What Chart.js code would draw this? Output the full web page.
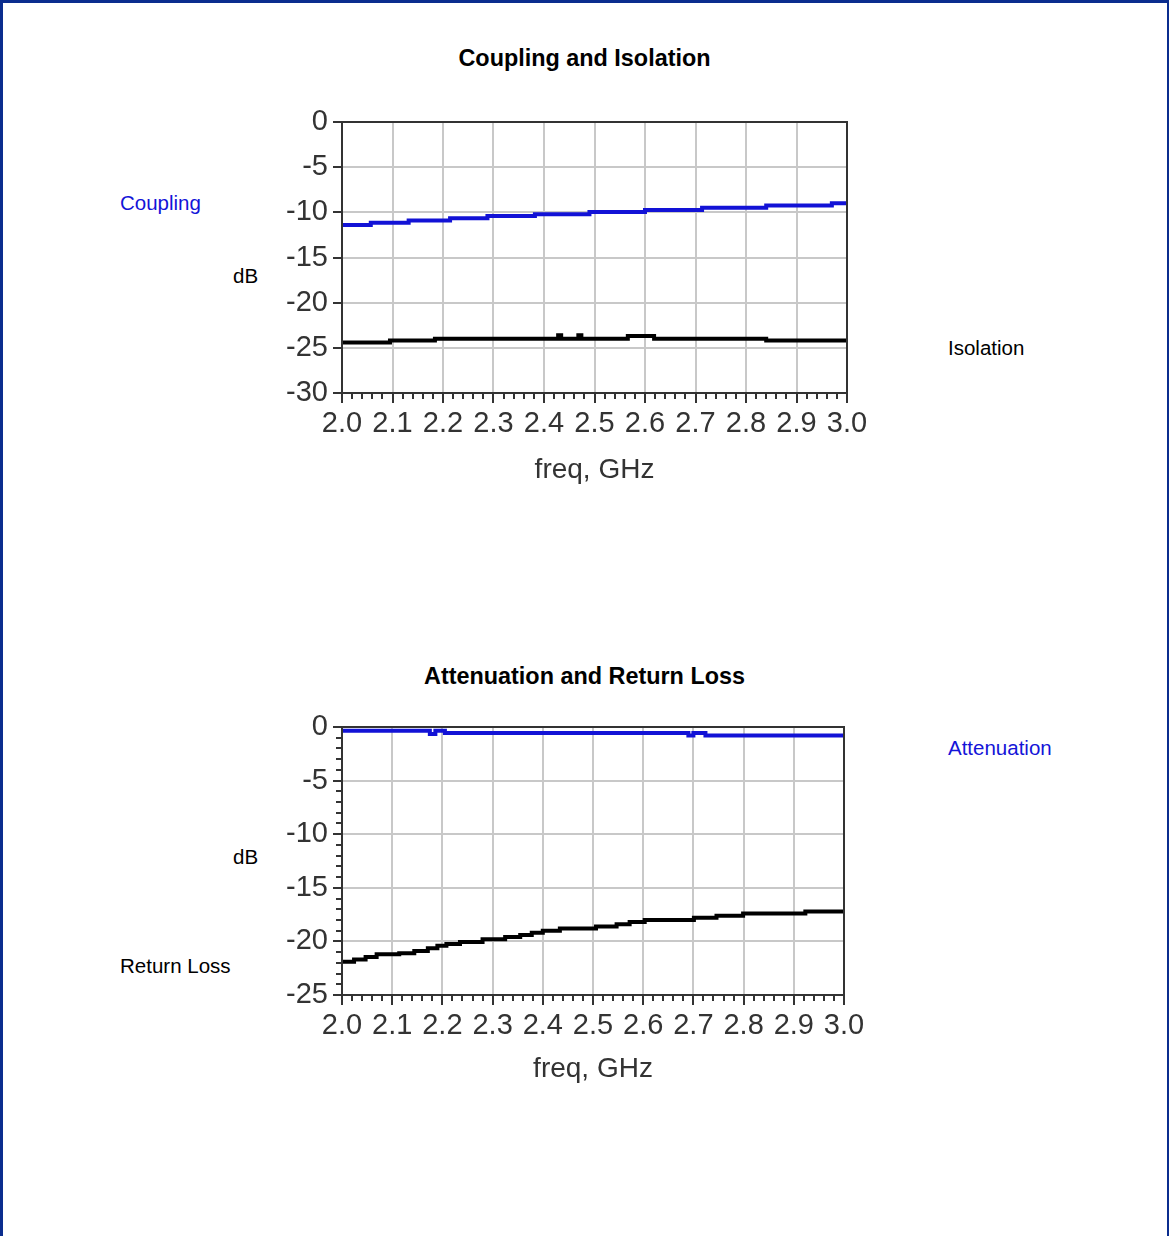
<!DOCTYPE html>
<html>
<head>
<meta charset="utf-8">
<script src="https://cdn.jsdelivr.net/npm/chart.js@4.4.1/dist/chart.umd.min.js"></script>
<style>
  html, body { margin: 0; padding: 0; background: #fff; }
  #page {
    position: relative; width: 1164px; height: 1233px; overflow: hidden;
    border-top: 3px solid #0b2d8e; border-left: 3px solid #0b2d8e; border-right: 2px solid #0b2d8e;
    font-family: "Liberation Sans", Arial, sans-serif;
  }
  canvas { position: absolute; }
  .lbl { position: absolute; font-size: 20.5px; line-height: 20px; white-space: nowrap; color: #000; }
  .blue { color: #1414d8; }
  .title { position: absolute; left: -3px; width: 1169px; text-align: center; font-weight: bold; font-size: 23.4px; line-height: 22px; }
</style>
</head>
<body>
<div id="page">
  <div class="title" style="top:44px">Coupling and Isolation</div>
  <div class="lbl blue" style="left:117px; top:190px">Coupling</div>
  <div class="lbl" style="left:230px; top:263px">dB</div>
  <div class="lbl" style="left:945px; top:335px">Isolation</div>
  <canvas id="c1" width="700" height="420" style="left:197px; top:77px"></canvas>

  <div class="title" style="top:662px">Attenuation and Return Loss</div>
  <div class="lbl blue" style="left:945px; top:735px">Attenuation</div>
  <div class="lbl" style="left:230px; top:844px">dB</div>
  <div class="lbl" style="left:117px; top:953px">Return Loss</div>
  <canvas id="c2" width="700" height="410" style="left:197px; top:687px"></canvas>
</div>
<script>
// Frequências (GHz) onde cada degrau começa, e valores em dB
const couplingFreq = [2.0, 2.057, 2.132, 2.214, 2.288, 2.382, 2.49, 2.60, 2.713, 2.84, 2.97, 3.0]
const couplingDb = [-11.4, -11.15, -10.9, -10.65, -10.4, -10.2, -9.95, -9.75, -9.5, -9.25, -9.0, -9.0]

const isolationFreq = [2.0, 2.095, 2.184, 2.428, 2.434, 2.468, 2.474, 2.566, 2.618, 2.84, 3.0]
const isolationDb = [-24.4, -24.2, -24.0, -23.6, -24.0, -23.6, -24.0, -23.7, -24.0, -24.2, -24.2]

const attenFreq = [2.0, 2.175, 2.186, 2.205, 2.69, 2.70, 2.724, 3.0]
const attenDb = [-0.35, -0.65, -0.35, -0.56, -0.8, -0.56, -0.8, -0.8]

const returnFreq = [2.0, 2.024, 2.047, 2.069, 2.114, 2.144, 2.171, 2.19, 2.208, 2.235, 2.28, 2.325, 2.355,
  2.378, 2.4, 2.434, 2.506, 2.547, 2.573, 2.603, 2.701, 2.746, 2.799, 2.923, 3.0]
const returnDb = [-21.9, -21.7, -21.45, -21.2, -21.1, -20.9, -20.65, -20.4, -20.25, -20.05, -19.8, -19.6, -19.4,
  -19.2, -19.0, -18.8, -18.6, -18.4, -18.2, -18.0, -17.8, -17.6, -17.4, -17.2, -17.2]

const freqTicks = ['2.0', '2.1', '2.2', '2.3', '2.4', '2.5', '2.6', '2.7', '2.8', '2.9', '3.0']
const xLabel = 'freq, GHz'

const BLUE = '#1212d6'
const GRID = '#c8c8c8'
const FRAME = '#333'
const TICK_FONT = { family: '"Liberation Sans", Arial, sans-serif', size: 29 }
const XTITLE_FONT = { family: '"Liberation Sans", Arial, sans-serif', size: 28 }

const toPoints = (xs, ys) => xs.map((x, i) => ({ x: x, y: ys[i] }))

// Moldura + marcas de escala (menores e maiores) para fora do gráfico
const axisTicks = {
  id: 'axisTicks',
  afterDraw(chart, args, opts) {
    const { ctx, chartArea: a } = chart
    const xs = chart.scales.x
    const ys = chart.scales.y
    ctx.save()
    ctx.strokeStyle = FRAME
    ctx.lineWidth = 2
    ctx.strokeRect(a.left, a.top, a.right - a.left, a.bottom - a.top)
    ctx.beginPath()
    for (let i = 0; i <= 50; i++) {
      const px = Math.round(xs.getPixelForValue(2 + i * 0.02))
      const len = i % 5 === 0 ? 10 : 6
      ctx.moveTo(px, a.bottom)
      ctx.lineTo(px, a.bottom + len)
    }
    const step = opts.yMinor || 5
    for (let v = ys.min; v <= ys.max + 1e-9; v += step) {
      const py = Math.round(ys.getPixelForValue(v))
      const len = Math.abs(v % 5) < 1e-9 ? 9 : 6
      ctx.moveTo(a.left, py)
      ctx.lineTo(a.left - len, py)
    }
    ctx.stroke()
    ctx.restore()
  }
}

const makeChart = (id, datasets, yMin, yMinor, pad, yWidth, xHeight, titlePad) => {
  return new Chart(document.getElementById(id), {
    type: 'line',
    data: { datasets: datasets },
    plugins: [axisTicks],
    options: {
      responsive: false,
      animation: false,
      layout: { padding: pad },
      elements: { point: { radius: 0 }, line: { borderWidth: 4 } },
      plugins: {
        legend: { display: false },
        tooltip: { enabled: false },
        axisTicks: { yMinor: yMinor }
      },
      scales: {
        x: {
          type: 'linear', min: 2.0, max: 3.0,
          afterFit: s => { s.height = xHeight },
          afterBuildTicks: s => { s.ticks = freqTicks.map(t => ({ value: parseFloat(t) })) },
          ticks: {
            color: '#333', font: TICK_FONT, padding: 14, maxRotation: 0, autoSkip: false,
            callback: v => v.toFixed(1)
          },
          grid: { color: GRID, lineWidth: 2, drawTicks: false },
          border: { display: false },
          title: { display: true, text: xLabel, color: '#333', font: XTITLE_FONT, padding: { top: 0, bottom: titlePad } }
        },
        y: {
          min: yMin, max: 0,
          afterFit: s => { s.width = yWidth },
          ticks: { stepSize: 5, color: '#333', font: TICK_FONT, padding: 14, autoSkip: false },
          grid: { color: GRID, lineWidth: 2, drawTicks: false },
          border: { display: false }
        }
      }
    }
  })
}

makeChart('c1', [
  { label: 'Coupling', data: toPoints(couplingFreq, couplingDb), borderColor: BLUE, stepped: 'before' },
  { label: 'Isolation', data: toPoints(isolationFreq, isolationDb), borderColor: '#000', stepped: 'before' }
], -30, null, { top: 42, right: 53, left: 0, bottom: 0 }, 142, 107, 13)

makeChart('c2', [
  { label: 'Attenuation', data: toPoints(attenFreq, attenDb), borderColor: BLUE, stepped: 'before' },
  { label: 'Return Loss', data: toPoints(returnFreq, returnDb), borderColor: '#000', stepped: 'before' }
], -25, 1, { top: 37, right: 56, left: 0, bottom: 0 }, 142, 105, 14)
</script>
</body>
</html>
